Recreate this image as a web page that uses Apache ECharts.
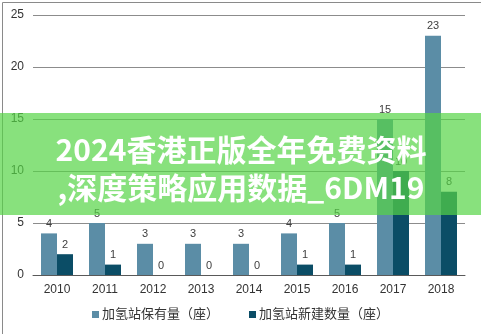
<!DOCTYPE html>
<html><head><meta charset="utf-8">
<script src="https://cdn.jsdelivr.net/npm/echarts@6/dist/echarts.min.js"></script>
<style>html,body{margin:0;padding:0;background:#fff}#c{width:481px;height:334px}</style>
</head><body><div id="c"></div>
<script>
const categories = ['2010','2011','2012','2013','2014','2015','2016','2017','2018'];
const stockName = '加氢站保有量（座）';
const newName = '加氢站新建数量（座）';
const stockValues = [4,5,3,3,3,4,5,15,23];
const newValues = [2,1,0,0,0,1,1,10,8];
const overlayLine1 = '2024香港正版全年免费资料';
const overlayLine2 = ',深度策略应用数据_6DM19';

const chart = echarts.init(document.getElementById('c'), null, {renderer:'canvas'});
const font = '"Liberation Sans", Arial, "Noto Sans CJK SC", sans-serif';
const lbl = {show:true, position:'top', color:'#404040', fontSize:11, fontFamily:font, distance:4};
chart.setOption({
  animation:false,
  textStyle:{fontFamily:font},
  grid:{left:33, right:16, top:15, bottom:59, containLabel:false},
  legend:{bottom:8, left:'center', itemWidth:7, itemHeight:7, itemGap:30, icon:'rect',
    textStyle:{color:'#333', fontSize:13, fontFamily:font, padding:[0,0,0,-2]},
    data:[stockName,newName]},
  xAxis:{type:'category', data:categories,
    axisLine:{lineStyle:{color:'#595959', width:1}}, axisTick:{show:false},
    axisLabel:{color:'#333', fontSize:12, margin:9}},
  yAxis:{type:'value', min:0, max:25, interval:5,
    axisLine:{show:false}, axisTick:{show:false},
    axisLabel:{color:'#333', fontSize:12, margin:9},
    splitLine:{lineStyle:{color:'#8c8c8c', width:1}}},
  series:[
    {name:stockName, type:'bar', data:stockValues, barWidth:16, barGap:'0%',
     itemStyle:{color:'#5B8DA6'}, label:lbl},
    {name:newName, type:'bar', data:newValues, barWidth:16, barGap:'0%',
     itemStyle:{color:'#0B4D66'}, label:lbl}
  ],
  graphic:[
    {type:'rect', left:0, top:0, z:100, silent:true,
     shape:{x:0.5,y:0.5,width:480,height:333}, style:{fill:'none', stroke:'#8a8a8a', lineWidth:1}},
    {type:'rect', z:200, silent:true, shape:{x:0,y:113,width:481,height:102},
     style:{fill:'rgba(86,212,70,0.7)'}},
    {type:'text', z:201, silent:true, x:241, y:150,
     style:{text:overlayLine1, fill:'#fff', fontSize:30, fontWeight:'bold',
       fontFamily:'"Noto Sans CJK SC", sans-serif', align:'center', verticalAlign:'middle'}},
    {type:'text', z:201, silent:true, x:241, y:188,
     style:{text:overlayLine2, fill:'#fff', fontSize:30, fontWeight:'bold',
       fontFamily:'"Noto Sans CJK SC", sans-serif', align:'center', verticalAlign:'middle'}}
  ]
});
</script></body></html>
